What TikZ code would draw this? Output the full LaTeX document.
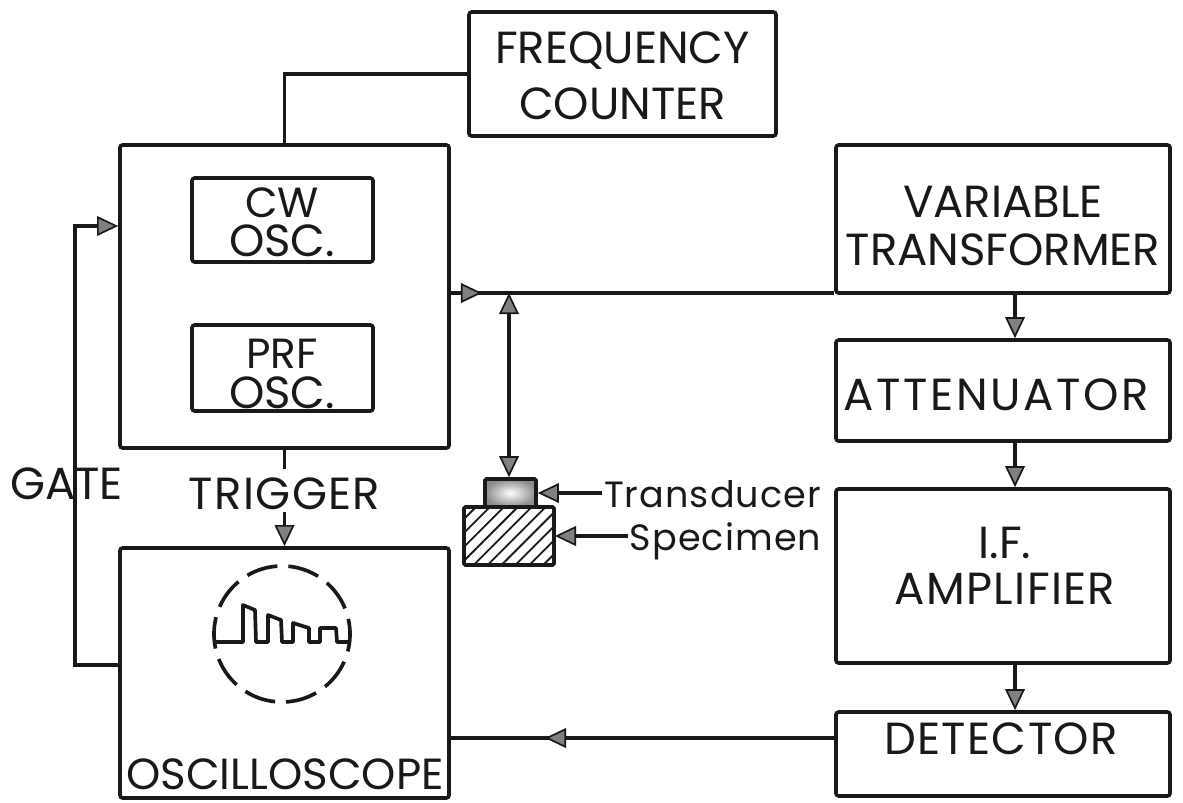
\documentclass[tikz,border=0pt]{standalone}
\usepackage{fontspec}
\setmainfont{Poppins}
\usetikzlibrary{positioning}
\usetikzlibrary{arrows.meta}
\usetikzlibrary{patterns.meta}
\begin{document}
\begin{tikzpicture}[
    x=0.025cm,y=-0.025cm,
    line width=2.6pt,
    draw=black!90,
    text=black!90,
    blockbox/.style={draw,rounded corners=2pt,inner sep=0pt},
    tag/.style={inner sep=0pt,align=center,font=\fontsize{32}{#1}\selectfont},
    tag/.default=40,
    smalltag/.style={inner sep=0pt,font=\fontsize{26}{30}\selectfont\addfontfeature{LetterSpace=3}},
    flow/.style={-{Triangle[length=15pt,width=14pt,fill=black!50,line width=1.2pt]}},
    bothflow/.style={{Triangle[length=15pt,width=14pt,fill=black!50,line width=1.2pt]}-{Triangle[length=15pt,width=14pt,fill=black!50,line width=1.2pt]}}
    ]

    \useasboundingbox (0,0) rectangle (1183,802);

    \node[blockbox,minimum width=7.675cm,minimum height=3.1cm] (freq) at (622.5,74) {};
    \node[blockbox,minimum width=8.225cm,minimum height=7.575cm] (osc) at (284.5,296.5) {};
    \node[blockbox,minimum width=4.525cm,minimum height=2.1cm] (cw) at (282.5,220) {};
    \node[blockbox,minimum width=4.525cm,minimum height=2.15cm] (prf) at (282.5,368) {};
    \node[blockbox,minimum width=8.225cm,minimum height=6.25cm] (scope) at (284.5,673) {};
    \node[blockbox,minimum width=8.35cm,minimum height=3.7cm] (var) at (1003,219) {};
    \node[blockbox,minimum width=8.35cm,minimum height=2.525cm] (att) at (1003,390.5) {};
    \node[blockbox,minimum width=8.35cm,minimum height=4.35cm] (amp) at (1003,576) {};
    \node[blockbox,minimum width=8.35cm,minimum height=2.1cm] (det) at (1003,754) {};

    \node[tag] (freqlabel) at (622.5,76) {FREQUENCY\\COUNTER};
    \node[tag=28] (cwlabel) at (282,222) {\fontsize{30}{28}\selectfont CW\\OSC.};
    \node[tag=28] (prflabel) at (282,374) {\fontsize{30}{28}\selectfont PRF\\OSC.};
    \node[tag] (scopelabel) at (285,774) {\fontsize{31}{36}\selectfont OSCILLOSCOPE};
    \node[tag=34] (varlabel) at (1003,226) {VARIABLE\\TRANSFORMER};
    \node[tag] (attlabel) at (996,395) {\addfontfeature{LetterSpace=6}ATTENUATOR};
    \node[tag=32.5] (amplabel) at (1005,566) {I.F.\\\addfontfeature{LetterSpace=3}AMPLIFIER};
    \node[tag] (detlabel) at (1001,739) {\addfontfeature{LetterSpace=3}DETECTOR};

    \node[draw,rounded corners=1pt,inner sep=0pt,minimum width=1.275cm,minimum height=0.7cm,inner color=white,outer color=black!45] (trans) at (510.5,493) {};
    \node[draw,rounded corners=1pt,inner sep=0pt,minimum width=2.25cm,minimum height=1.45cm,
      pattern={Lines[angle=45,distance=7pt,line width=1.3pt]},pattern color=black!90] (spec) at (509,536) {};

    \node[tag] (gate) at (66.5,484) {GATE};
    \node[tag] (trigger) at (284.5,494) {\addfontfeature{LetterSpace=3}TRIGGER};
    \node[smalltag,anchor=east] (translabel) at (823,494) {Transducer};
    \node[smalltag,anchor=east] (speclabel) at (823,541) {Specimen};

    \coordinate (gatecorner) at (75,665);
    \coordinate (tip) at (482,293);
    \coordinate (tee) at (509,293);
    \coordinate (spine) at (1015,0);
    \coordinate (backtip) at (545,738);

    \draw (freq.west) -| (osc.north);
    \draw[flow] (scope.west |- gatecorner) -- (gatecorner) |- (osc.west |- 0,226);
    \draw (osc.east |- tip) -- (var.west |- tip);
    \draw[flow] (osc.east |- tip) -- (tip);
    \draw[flow] (spine |- var.south) -- (spine |- att.north);
    \draw[flow] (spine |- att.south) -- (spine |- amp.north);
    \draw[flow] (spine |- amp.south) -- (spine |- det.north);
    \draw (det.west |- backtip) -- (scope.east |- backtip);
    \draw[flow] (det.west |- backtip) -- (backtip);
    \draw[bothflow] (tee) -- (tee |- trans.north);
    \draw (osc.south) -- ++(0,19);
    \draw[flow] (trigger.south) -- (scope.north);
    \draw[flow] (translabel.west |- trans.east) -- (trans.east);
    \draw[flow] (speclabel.west |- spec.east) -- (spec.east);

    \draw[dash pattern=on 22.5pt off 7.8pt,dash phase=10pt] (282,634) circle (68);
    \draw[line join=round] (213,642) -- (243,642) -- (243,605) -- (255,610) -- (256,642) -- (268,642) -- (268,615) -- (281,620) -- (282,642)
      -- (293,642) -- (293,623) -- (309,628) -- (309,642) -- (320,642) -- (320,628) -- (336,628) -- (337,642) -- (350,642);
\end{tikzpicture}
\end{document}
